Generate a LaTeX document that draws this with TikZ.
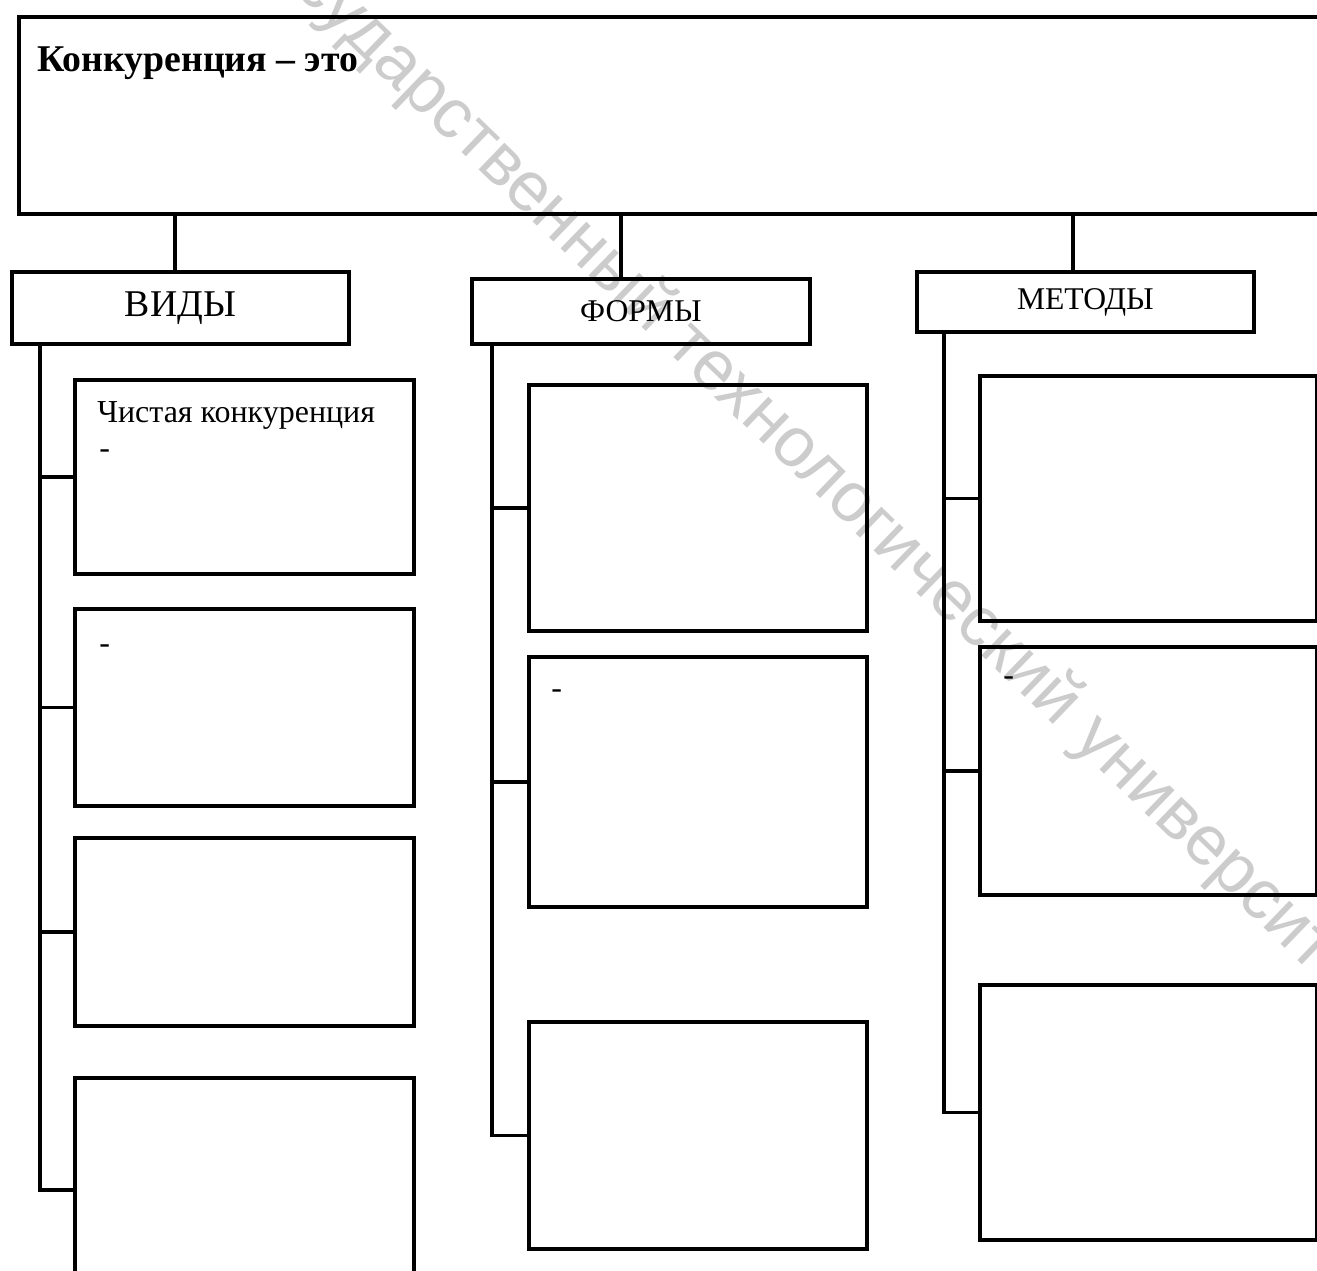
\documentclass[tikz,border=0pt]{standalone}
\usepackage{fontspec}
\setmainfont{Liberation Serif}
\newfontfamily\wmfont{Liberation Sans}

\tikzset{
  topbox/.style={draw, line width=2.2pt, rectangle, inner sep=0pt},
  headbox/.style={draw, line width=2.2pt, rectangle, inner sep=0pt},
  cellbox/.style={draw, line width=2.2pt, rectangle, inner sep=0pt, minimum width=6.78cm},
  link/.style={line width=2.1pt},
  note/.style={inner sep=0pt, anchor=base west, font=\fontsize{18.2}{22}\selectfont},
  wmark/.style={text=black!20, inner sep=0pt, font=\wmfont\fontsize{40}{46}\selectfont}
}

\begin{document}
\begin{tikzpicture}[x=0.02cm, y=-0.02cm]
  \useasboundingbox (0,0) rectangle (1317,1270);
  \clip (0,0) rectangle (1317,1270);

  % Watermark
  \node[wmark, rotate=-44] (wm) at (817,470) {государственный технологический университет};

  % Main box
  \node[topbox, minimum width=26.6cm, minimum height=3.94cm, anchor=north west] (top) at (17,15) {};
  \node[inner sep=0pt, anchor=base west, font=\fontsize{21.5}{26}\selectfont\bfseries] (def) at ([shift={(20,57)}]top.north west) {Конкуренция – это};

  % Headings
  \node[headbox, minimum width=6.74cm, minimum height=1.44cm, anchor=north west, font=\fontsize{21.5}{26}\selectfont] (vidy) at (10,270) {ВИДЫ};
  \node[headbox, minimum width=6.76cm, minimum height=1.30cm, anchor=north west, font=\fontsize{18}{22}\selectfont] (formy) at (470,277) {ФОРМЫ};
  \node[headbox, minimum width=6.74cm, minimum height=1.20cm, anchor=north west, font=\fontsize{18}{22}\selectfont] (metody) at (915,270) {МЕТОДЫ};

  \coordinate (cv) at (175,0);
  \coordinate (cf) at (621,0);
  \coordinate (cm) at (1073,0);
  \draw[link] (top.south -| cv) -- (vidy.north -| cv);
  \draw[link] (top.south -| cf) -- (formy.north -| cf);
  \draw[link] (top.south -| cm) -- (metody.north -| cm);

  % Column ВИДЫ
  \node[cellbox, minimum height=3.88cm, anchor=north west] (v1) at (73,378) {};
  \node[cellbox, minimum height=3.94cm, anchor=north west] (v2) at (73,607) {};
  \node[cellbox, minimum height=3.76cm, anchor=north west] (v3) at (73,836) {};
  \node[cellbox, minimum height=4.48cm, anchor=north west] (v4) at (73,1076) {};
  \node[note] (v1a) at ([shift={(24,44)}]v1.north west) {Чистая конкуренция};
  \node[note] (v1b) at ([shift={(26,80)}]v1.north west) {-};
  \node[note] (v2a) at ([shift={(26,46)}]v2.north west) {-};

  \coordinate (sv) at (40,0);
  \draw[link] (vidy.south -| sv) |- (v4.west);
  \draw[link] (v1.west -| sv) -- (v1.west);
  \draw[link] (v2.west -| sv) -- (v2.west);
  \draw[link] (v3.west -| sv) -- (v3.west);

  % Column ФОРМЫ
  \node[cellbox, minimum width=6.76cm, minimum height=4.92cm, anchor=north west] (f1) at (527,383) {};
  \node[cellbox, minimum width=6.76cm, minimum height=5.00cm, anchor=north west] (f2) at (527,655) {};
  \node[cellbox, minimum width=6.76cm, minimum height=4.54cm, anchor=north west] (f3) at (527,1020) {};
  \node[note] (f2a) at ([shift={(24,43)}]f2.north west) {-};

  \coordinate (sf) at (492,0);
  \draw[link] (formy.south -| sf) |- (f3.west);
  \draw[link] (f1.west -| sf) -- (f1.west);
  \draw[link] (f2.west -| sf) -- (f2.west);

  % Column МЕТОДЫ
  \node[cellbox, minimum width=6.74cm, minimum height=4.90cm, anchor=north west] (m1) at (978,374) {};
  \node[cellbox, minimum width=6.74cm, minimum height=4.96cm, anchor=north west] (m2) at (978,645) {};
  \node[cellbox, minimum width=6.74cm, minimum height=5.10cm, anchor=north west] (m3) at (978,983) {};
  \node[note] (m2a) at ([shift={(25,40)}]m2.north west) {-};

  \coordinate (sm) at (944,0);
  \draw[link] (metody.south -| sm) |- (m3.west);
  \draw[link] (m1.west -| sm) -- (m1.west);
  \draw[link] (m2.west -| sm) -- (m2.west);
\end{tikzpicture}
\end{document}
